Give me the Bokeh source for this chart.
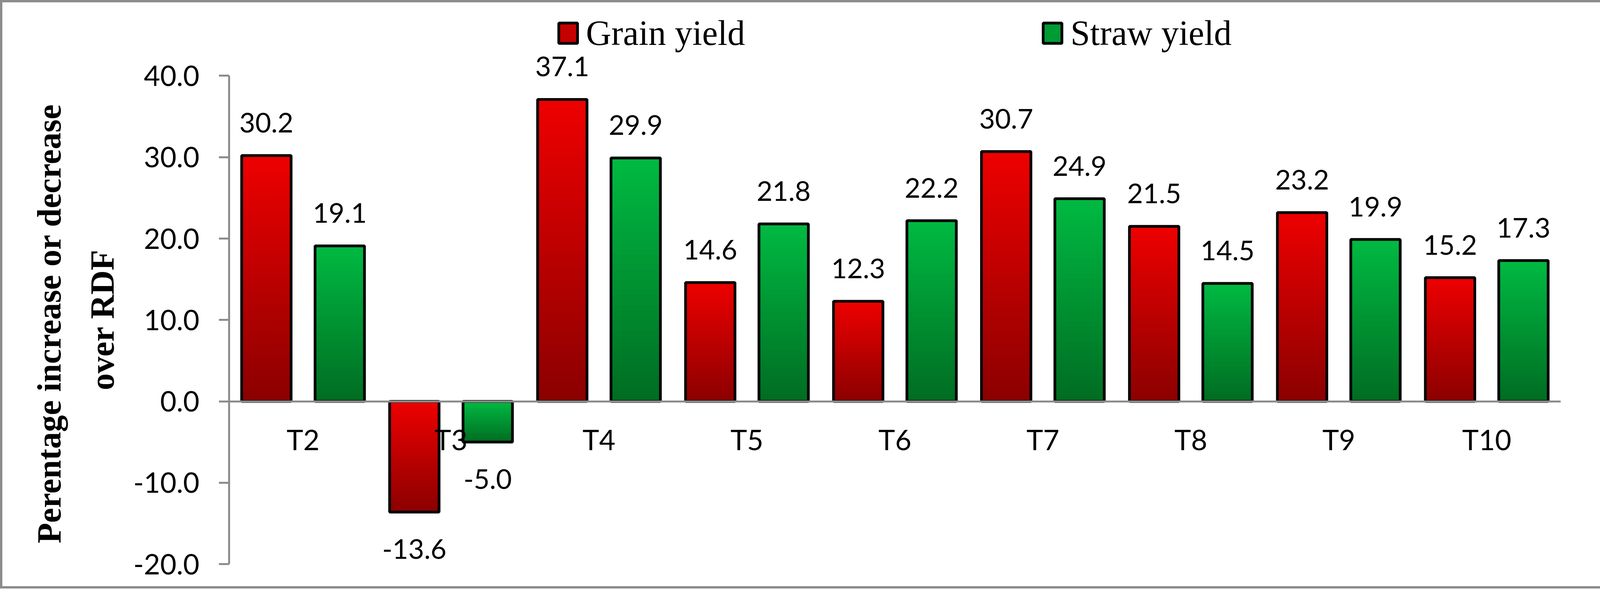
import numpy as np
from bokeh.plotting import figure
from bokeh.models import (ColumnDataSource, FactorRange, FixedTicker, NumeralTickFormatter,
                          LabelSet, Legend, LegendItem, Range1d, Title)
from bokeh.transform import dodge
from bokeh.core.properties import value
from bokeh.embed import file_html
from bokeh.resources import INLINE

# ---------------- data ----------------
categories = ["T2", "T3", "T4", "T5", "T6", "T7", "T8", "T9", "T10"]
grain_yield = [30.2, -13.6, 37.1, 14.6, 12.3, 30.7, 21.5, 23.2, 15.2]
straw_yield = [19.1, -5.0, 29.9, 21.8, 22.2, 24.9, 14.5, 19.9, 17.3]
series_names = ["Grain yield", "Straw yield"]
y_ticks = [-20, -10, 0, 10, 20, 30, 40]
y_title_lines = ["Perentage increase or decrease", "over RDF"]

# ---------------- style ----------------
RED_TOP, RED_BOT = (238, 0, 0), (139, 0, 0)
GRN_TOP, GRN_BOT = (0, 186, 66), (0, 108, 34)
GRAY = "#8c8c8c"
BAR_W = 0.334
OFFS = [-0.248, 0.248]
N_SLICES = 48
SANS = "Lato"
SERIF = "Liberation Serif"

W, H = 4117, 1506
p = figure(x_range=FactorRange(*categories), y_range=Range1d(-23.3, 49.0),
           width=W, height=H, output_backend="svg", toolbar_location=None, title=None,
           min_border_left=580, min_border_right=128, min_border_top=0, min_border_bottom=0)
p.styles = {"border": f"6px solid {GRAY}"}
p.xgrid.visible = False
p.ygrid.visible = False
p.outline_line_color = None
p.background_fill_color = "white"
p.border_fill_color = "white"


def hexcol(rgb):
    return "#%02x%02x%02x" % tuple(int(round(c)) for c in rgb)


def gradient_source(vals, top_rgb, bot_rgb):
    xs, bots, tops, cols = [], [], [], []
    top_rgb = np.array(top_rgb, float)
    bot_rgb = np.array(bot_rgb, float)
    for k in range(N_SLICES):
        t = (k + 0.5) / N_SLICES  # fraction measured from the zero line
        for c, v in zip(categories, vals):
            f_top = (1 - t) if v >= 0 else t  # fraction measured from bar's upper edge
            xs.append(c)
            bots.append(v * k / N_SLICES)
            tops.append(v)
            cols.append(hexcol(top_rgb + (bot_rgb - top_rgb) * f_top))
    return ColumnDataSource(dict(x=xs, bottom=bots, top=tops, color=cols))


legend_items = []
for vals, off, (ctop, cbot), name in zip([grain_yield, straw_yield], OFFS,
                                         [(RED_TOP, RED_BOT), (GRN_TOP, GRN_BOT)], series_names):
    gsrc = gradient_source(vals, ctop, cbot)
    p.vbar(x=dodge("x", off, range=p.x_range), bottom="bottom", top="top", width=BAR_W,
           fill_color="color", line_color=None, source=gsrc)
    osrc = ColumnDataSource(dict(x=categories, top=vals))
    p.vbar(x=dodge("x", off, range=p.x_range), bottom=0, top="top", width=BAR_W,
           fill_color=None, line_color="black", line_width=7, source=osrc)
    # legend proxy (hidden in the plot, drawn only as legend swatch)
    mid = hexcol((np.array(ctop) * 0.6 + np.array(cbot) * 0.4))
    leg_src = ColumnDataSource(dict(x=categories[:1], top=vals[:1]))
    leg_r = p.vbar(x="x", top="top", bottom=0, width=BAR_W, fill_color=mid,
                   line_color="black", line_width=7, source=leg_src)
    leg_r.visible = False
    legend_items.append(LegendItem(label=name, renderers=[leg_r]))

    pos = [(c, v) for c, v in zip(categories, vals) if v >= 0]
    neg = [(c, v) for c, v in zip(categories, vals) if v < 0]
    for subset, yoff in [(pos, 59), (neg, -120)]:
        if not subset:
            continue
        lsrc = ColumnDataSource(dict(x=[c for c, _ in subset], y=[v for _, v in subset],
                                     text=["%.1f" % v for _, v in subset]))
        p.add_layout(LabelSet(x=dodge("x", off, range=p.x_range), y="y", text="text", source=lsrc,
                              text_align="center", text_baseline="alphabetic", y_offset=yoff,
                              text_font=value(SANS), text_font_size=value("70px"),
                              text_color="black"))

legend = Legend(items=legend_items, orientation="horizontal", location=(838, 1376),
                spacing=757, glyph_width=60, glyph_height=65, label_standoff=16,
                label_text_font=SERIF, label_text_font_size="90px", label_text_color="black",
                border_line_color=None, background_fill_alpha=0, padding=0, margin=0,
                inactive_fill_alpha=0)
p.add_layout(legend, "center")

# y axis
p.yaxis.ticker = FixedTicker(ticks=y_ticks)
p.yaxis.bounds = (y_ticks[0], y_ticks[-1])
p.yaxis.formatter = NumeralTickFormatter(format="0.0")
p.yaxis.axis_line_color = GRAY
p.yaxis.axis_line_width = 5
p.yaxis.major_tick_line_color = GRAY
p.yaxis.major_tick_line_width = 5
p.yaxis.major_tick_out = 26
p.yaxis.major_tick_in = 0
p.yaxis.minor_tick_line_color = None
p.yaxis.major_label_text_font = SANS
p.yaxis.major_label_text_font_size = "72px"
p.yaxis.major_label_text_color = "black"
p.yaxis.major_label_standoff = 50

# y axis title: two lines of bold serif text (inner line added first)
for line, offset, standoff in [(y_title_lines[1], 514, 58), (y_title_lines[0], 122, 17)]:
    p.add_layout(Title(text=line, align="left", offset=offset, standoff=standoff,
                       text_font=SERIF, text_font_size="86px", text_font_style="bold",
                       text_color="black"), "left")

# x axis (category labels sit just below the zero line)
p.xaxis.fixed_location = 0
p.xaxis.axis_line_color = GRAY
p.xaxis.axis_line_width = 5
p.xaxis.major_tick_line_color = None
p.xaxis.minor_tick_line_color = None
p.xaxis.major_label_text_font = SANS
p.xaxis.major_label_text_font_size = "72px"
p.xaxis.major_label_text_color = "black"
p.xaxis.major_label_standoff = 48

open("out.html", "w").write(file_html(p, INLINE))
